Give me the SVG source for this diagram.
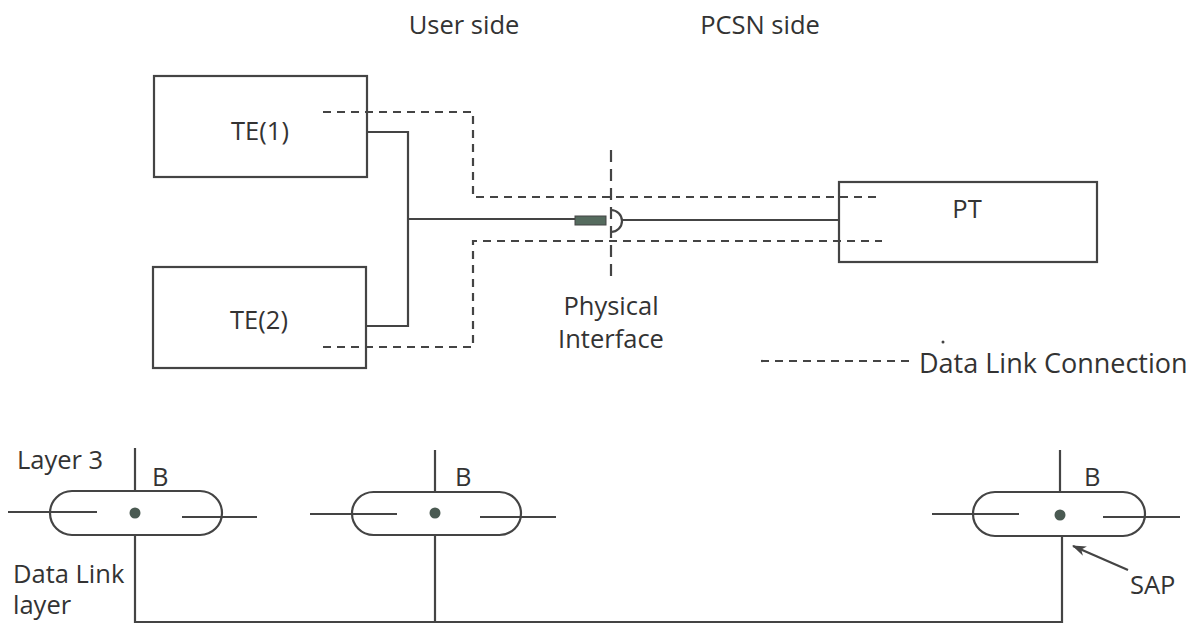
<svg xmlns="http://www.w3.org/2000/svg" width="1198" height="626" viewBox="0 0 1198 626">
<style>
.ln{fill:none;stroke:#444;stroke-width:2.2}
.ds{fill:none;stroke:#444;stroke-width:2.2;stroke-dasharray:8 6}
.bx{fill:#fff;stroke:#444;stroke-width:2.2}
text{font-family:"Open Sans","Noto Sans",sans-serif;font-size:25.5px;fill:#333}
.m{text-anchor:middle}
</style>
<defs>
<marker id="ah" markerWidth="14" markerHeight="10" refX="13" refY="5" orient="auto" markerUnits="userSpaceOnUse">
<path d="M0,0 L14,5 L0,10 L4,5 Z" fill="#444"/>
</marker>
</defs>
<rect width="1198" height="626" fill="#fff"/>
<text class="m" x="464" y="34">User side</text>
<text class="m" x="760" y="34">PCSN side</text>
<g id="te1"><rect class="bx" x="154" y="76" width="213" height="101"/><text class="m" x="260" y="140">TE(1)</text></g>
<g id="te2"><rect class="bx" x="153" y="267" width="213" height="101"/><text class="m" x="259" y="329">TE(2)</text></g>
<g id="pt"><rect class="bx" x="839" y="182" width="258" height="80"/><text class="m" x="967" y="218">PT</text></g>
<g id="connectors">
<path class="ln" d="M367,132 H408 V326 H366 M408,219 H575 M622,220 H839"/>
<path class="ds" d="M323,112 H473 V197 H882 M323,347 H473 V241 H882"/>
<path class="ds" d="M611,150 V282" style="stroke-dasharray:12 7"/>
<rect x="575" y="216" width="31" height="9" fill="#556b5e" stroke="#444" stroke-width="1"/>
<path class="ln" d="M611,210 A11,11 0 0 1 611,232"/>
<path class="ds" d="M761,361 H910"/>
<path class="ln" d="M135,535 V622 H1062 V536 M435,535 V622"/>
<path class="ln" d="M1128,570 L1073,546" marker-end="url(#ah)"/>
</g>
<text class="m" x="611" y="315">Physical</text>
<text class="m" x="611" y="348">Interface</text>
<circle cx="943" cy="342" r="1.5" fill="#444"/>
<text x="919" y="373" style="font-size:27px">Data Link Connection</text>
<g id="sap1">
<path class="ln" d="M135,448 V491"/>
<rect class="bx" x="50" y="491" width="172" height="44" rx="22"/>
<path class="ln" d="M8,512 H97 M182,517 H257"/>
<circle cx="135" cy="513" r="5.5" fill="#4a5a52"/>
<text x="152" y="486">B</text>
</g>
<g id="sap2">
<path class="ln" d="M435,450 V492"/>
<rect class="bx" x="352" y="492" width="169" height="43" rx="21.5"/>
<path class="ln" d="M310,514 H397 M480,517 H556"/>
<circle cx="435" cy="513" r="5.5" fill="#4a5a52"/>
<text x="455" y="486">B</text>
</g>
<g id="sap3">
<path class="ln" d="M1060,450 V492"/>
<rect class="bx" x="973" y="492" width="172" height="44" rx="22"/>
<path class="ln" d="M932,514 H1019 M1103,517 H1180"/>
<circle cx="1060" cy="515" r="5.5" fill="#4a5a52"/>
<text x="1084" y="486">B</text>
</g>
<text x="17" y="469">Layer 3</text>
<text x="13" y="583">Data Link</text>
<text x="13" y="614">layer</text>
<text x="1130" y="594">SAP</text>
</svg>
